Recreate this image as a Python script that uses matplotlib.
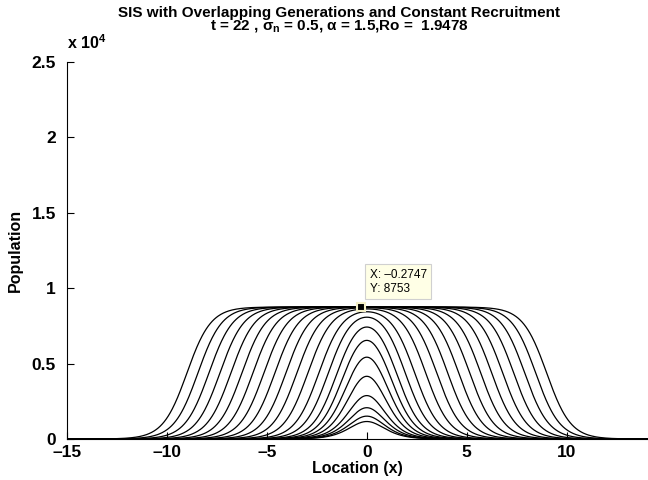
import numpy as np
import matplotlib
matplotlib.use("Agg")
import matplotlib.pyplot as plt

plt.rcParams['font.family'] = ['Liberation Sans', 'DejaVu Sans']
plt.rcParams['mathtext.fontset'] = 'custom'
plt.rcParams['mathtext.rm'] = 'Liberation Sans:bold'
plt.rcParams['mathtext.it'] = 'Liberation Sans:bold'
plt.rcParams['mathtext.bf'] = 'Liberation Sans:bold'

# plateau level (from the data tip) and edge steepness of the profiles
plateau = 8753.0
edge = 0.6

# half-width of each curve (one per time step)
half_width = [0.16, 0.21, 0.29, 0.41, 0.62, 0.87, 1.16, 1.50, 1.93, 2.40, 2.95,
              3.50, 4.05, 4.60, 5.15, 5.70, 6.25, 6.80, 7.35, 7.90, 8.45, 9.00]

tip_x = -0.2747
tip_y = 8753

xticks = [-15, -10, -5, 0, 5, 10]
yticks = [0, 5000, 10000, 15000, 20000, 25000]
ylabels = ['0', '0.5', '1', '1.5', '2', '2.5']

x = np.linspace(-15, 15, 901)

def g(u):
    return 1.0 / (1.0 + np.exp(-u / edge))

fig = plt.figure(figsize=(6.48, 4.8), dpi=100)
ax = fig.add_axes([67/648, 41/480, 1 - 67/648, (439-62)/480])

for w in half_width:
    y = plateau * (g(x + w) - g(x - w))
    ax.plot(x, y, color='black', lw=0.9)

ax.set_xlim(-15, 14.07)
ax.set_ylim(0, 25000)
ax.set_xticks(xticks)
ax.set_xticklabels([str(t).replace('-', '\u2013') for t in xticks])
ax.set_yticks(yticks)
ax.set_yticklabels(ylabels)
ax.tick_params(direction='in', length=5, width=0.8, labelsize=12.5)
ax.tick_params(axis='x', pad=4)
ax.tick_params(axis='y', pad=8)
for lab in ax.get_xticklabels() + ax.get_yticklabels():
    lab.set_fontweight('bold')
ax.spines['top'].set_visible(False)
ax.spines['right'].set_visible(False)

ax.set_xlabel('Location (x)', fontsize=11.5, fontweight='bold', labelpad=1)
ax.set_ylabel('Population', fontsize=11.5, fontweight='bold', labelpad=6)

fig.text(67/648, 1 - 49/480, r'x 10$^{4}$', fontsize=11.5, fontweight='bold',
         ha='left', va='baseline')

fig.text(339/648, 1 - 17/480, 'SIS with Overlapping Generations and Constant Recruitment',
         fontsize=11, fontweight='bold', ha='center', va='baseline')
fig.text(339/648, 1 - 30/480, r't = 22 , $\sigma_\mathrm{n}$ = 0.5, $\alpha$ = 1.5,Ro =  1.9478',
         fontsize=11, fontweight='bold', ha='center', va='baseline')

# data tip
ax.plot([tip_x], [tip_y], marker='s', ms=6, color='black', mec='#f5f0c8', mew=1.5,
        zorder=5)
ax.annotate('X: \u20130.2747\nY: %d' % tip_y, xy=(tip_x, tip_y), xytext=(6, 9),
            textcoords='offset points', fontsize=8.5, va='bottom', ha='left',
            linespacing=1.15,
            bbox=dict(boxstyle='square,pad=0.4', fc='#ffffe6', ec='#d0d0d0', lw=0.8))

fig.savefig('out.png', dpi=100)
